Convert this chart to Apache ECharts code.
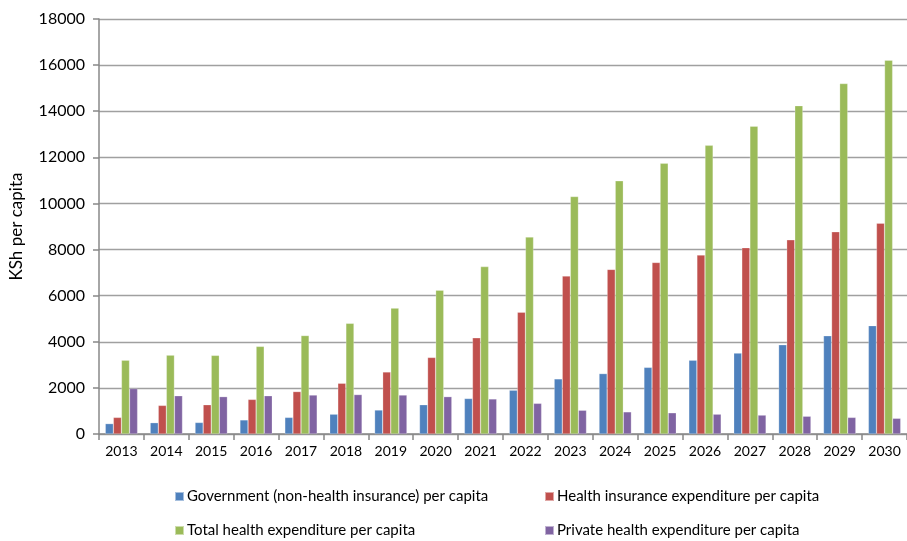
<!DOCTYPE html>
<html>
<head>
<meta charset="utf-8">
<script src="https://cdn.jsdelivr.net/npm/echarts@6/dist/echarts.min.js"></script>
<style>html,body{margin:0;padding:0;background:#fff}#c{width:907px;height:541px}</style>
</head>
<body>
<div id="c"></div>
<script>
const years = ['2013','2014','2015','2016','2017','2018','2019','2020','2021','2022','2023','2024','2025','2026','2027','2028','2029','2030'];
const govNonHI = [450, 490, 500, 610, 720, 860, 1040, 1270, 1540, 1900, 2390, 2620, 2890, 3200, 3510, 3870, 4260, 4700];
const healthIns = [720, 1240, 1270, 1500, 1840, 2200, 2690, 3320, 4170, 5280, 6850, 7140, 7440, 7760, 8080, 8420, 8770, 9140];
const totalHealth = [3200, 3420, 3410, 3800, 4270, 4800, 5460, 6240, 7260, 8540, 10300, 10980, 11740, 12520, 13350, 14240, 15200, 16210];
const privateHealth = [1970, 1660, 1620, 1660, 1690, 1710, 1690, 1620, 1520, 1330, 1030, 960, 920, 860, 820, 770, 720, 680];
const seriesNames = ['Government (non-health insurance) per capita','Health insurance expenditure per capita','Total health expenditure per capita','Private health expenditure per capita'];
const seriesColors = ['#4F81BD','#C0504D','#9BBB59','#8064A2'];
const yTicks = { min: 0, max: 18000, interval: 2000 };
const yTitle = 'KSh per capita';

const font = 'Lato, "Open Sans", sans-serif';
const dataSets = [govNonHI, healthIns, totalHealth, privateHealth];
const legendPos = [[174,489],[544,489],[174,523],[544,523]];

const chart = echarts.init(document.getElementById('c'));
chart.setOption({
  animation: false,
  backgroundColor: '#fff',
  grid: { left: 99, top: 19, right: -9, bottom: 107, containLabel: false },
  legend: seriesNames.map((n, i) => ({
    data: [n], left: legendPos[i][0], top: legendPos[i][1], padding: 0,
    icon: 'rect', itemWidth: 9, itemHeight: 9, itemGap: 0,
    textStyle: { fontFamily: font, fontSize: 15, color: '#000', padding: [0,0,0,-2] }
  })),
  xAxis: {
    type: 'category', data: years, boundaryGap: true,
    axisLine: { lineStyle: { color: '#888', width: 1.5 } },
    axisTick: { show: true, length: 6, lineStyle: { color: '#888', width: 1.5 } },
    axisLabel: { fontFamily: font, fontSize: 14, color: '#000', margin: 10 }
  },
  yAxis: {
    type: 'value', min: yTicks.min, max: yTicks.max, interval: yTicks.interval,
    name: yTitle, nameLocation: 'middle', nameGap: 74, nameRotate: 90,
    nameTextStyle: { fontFamily: font, fontSize: 17, color: '#000' },
    axisLine: { show: true, lineStyle: { color: '#888', width: 1.5 } },
    axisTick: { show: true, length: 6, lineStyle: { color: '#888', width: 1.5 } },
    axisLabel: { fontFamily: font, fontSize: 16, color: '#000', margin: 14, formatter: v => String(v) },
    splitLine: { lineStyle: { color: '#a0a0a0', width: 1.3 } }
  },
  series: seriesNames.map((n, i) => ({
    name: n, type: 'bar', data: dataSets[i],
    barGap: '0%', barCategoryGap: '28%',
    itemStyle: { color: seriesColors[i], borderColor: 'rgba(255,255,255,0.5)', borderWidth: 0.5 }
  }))
});
</script>
</body>
</html>
